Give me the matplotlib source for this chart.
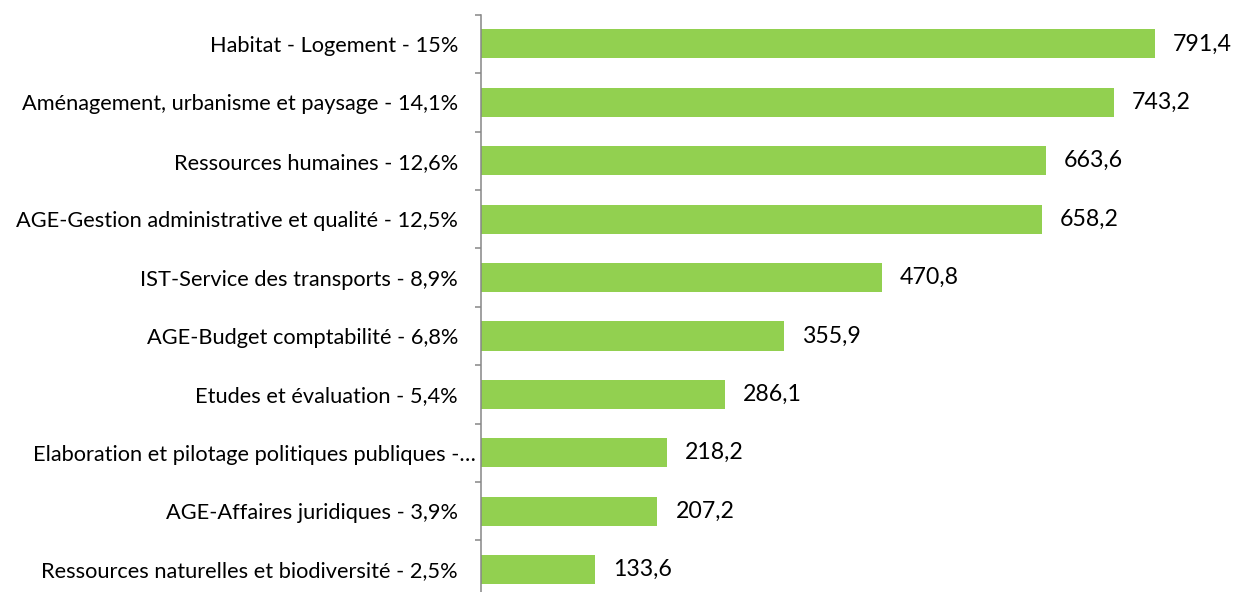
import numpy as np
import matplotlib.pyplot as plt
import matplotlib.transforms as mtransforms

plt.rcParams['font.family'] = ['Lato', 'DejaVu Sans']

categories = [
    "Habitat - Logement - 15%",
    "Aménagement, urbanisme et paysage - 14,1%",
    "Ressources humaines - 12,6%",
    "AGE-Gestion administrative et qualité - 12,5%",
    "IST-Service des transports - 8,9%",
    "AGE-Budget comptabilité - 6,8%",
    "Etudes et évaluation - 5,4%",
    "Elaboration et pilotage politiques publiques -…",
    "AGE-Affaires juridiques - 3,9%",
    "Ressources naturelles et biodiversité - 2,5%",
]
values = [791.4, 743.2, 663.6, 658.2, 470.8, 355.9, 286.1, 218.2, 207.2, 133.6]
value_labels = ["791,4", "743,2", "663,6", "658,2", "470,8", "355,9", "286,1", "218,2", "207,2", "133,6"]

W, H = 1235, 592
fig = plt.figure(figsize=(W / 100, H / 100), dpi=100)
# plot area: y-axis at x=481 px, category band from y=14.7 to ~598.7 px
left = 481 / W
top = 1 - 14.7 / H
bottom = 1 - 598.7 / H
ax = fig.add_axes([left, bottom, 1 - left, top - bottom])

y = np.arange(len(categories))
ax.barh(y, values, height=0.5, color="#92D050")
ax.set_xlim(0, (W - 481) / 0.8517)
ax.set_ylim(len(categories) - 0.5, -0.5)

for yi, v, lab in zip(y, values, value_labels):
    ax.annotate(lab, (v, yi), xytext=(13, 0), textcoords="offset points",
                va="center", ha="left", fontsize=16.7, color="black")

ax.set_yticks(y)
ax.set_yticklabels(categories, fontsize=15.7)
ax.tick_params(axis="y", which="major", length=0, pad=16.5)
ax.set_yticks(np.arange(-0.5, len(categories) + 0.5, 1), minor=True)
ax.tick_params(axis="y", which="minor", length=4.5, width=1.1, color="#868686")
ax.set_xticks([])

# the truncated label sits closer to the axis
lbl = ax.get_yticklabels()[7]
lbl.set_transform(lbl.get_transform() + mtransforms.ScaledTranslation(13 / 72, 0, fig.dpi_scale_trans))

for s in ["top", "right", "bottom"]:
    ax.spines[s].set_visible(False)
ax.spines["left"].set_color("#868686")
ax.spines["left"].set_linewidth(1.1)

fig.savefig("out.png", dpi=100)
